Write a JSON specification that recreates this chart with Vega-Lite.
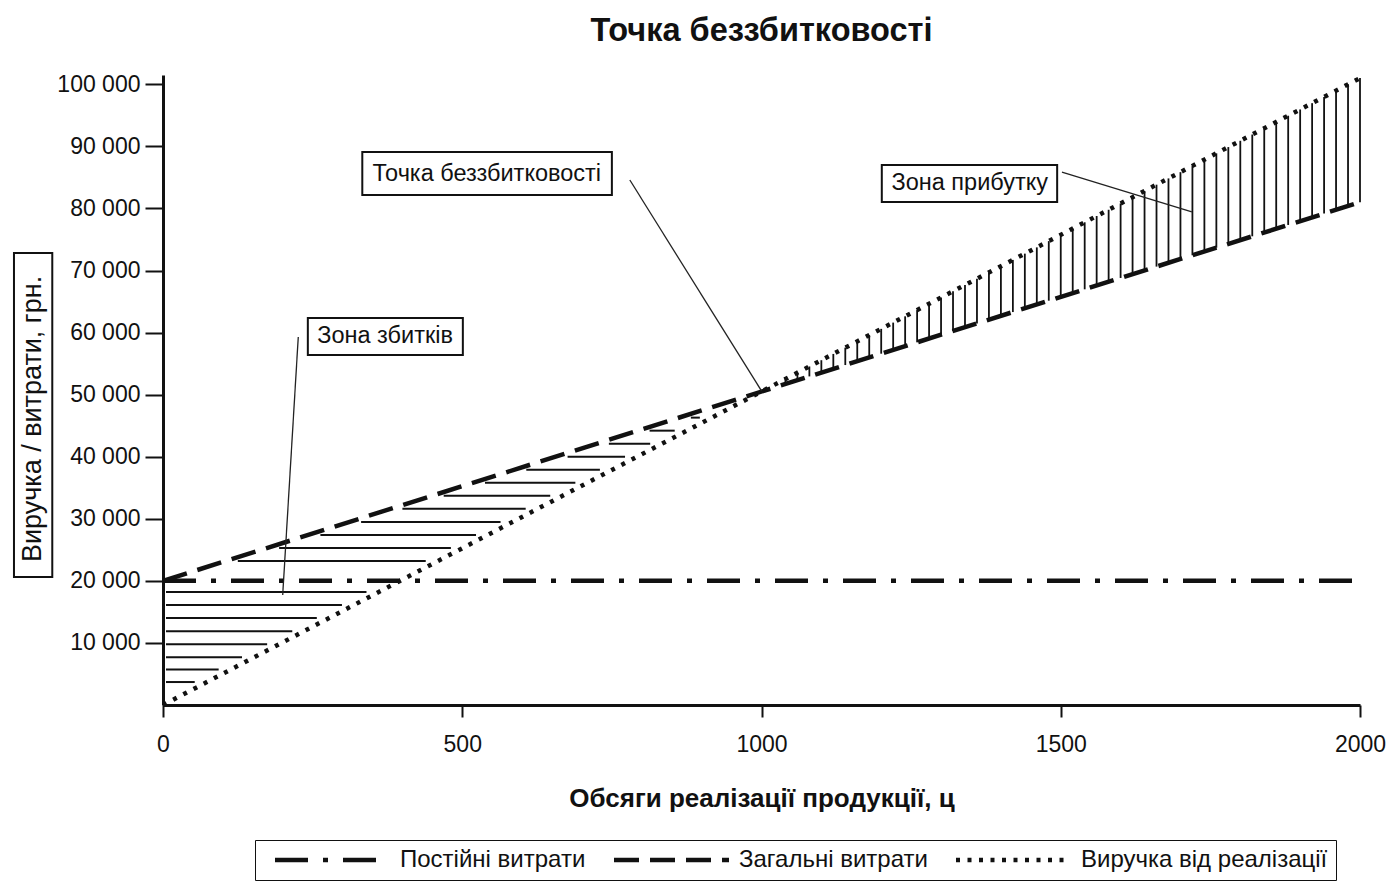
{
  "$schema": "https://vega.github.io/schema/vega-lite/v6.json",
  "width": 1197,
  "height": 630,
  "autosize": {"type": "none"},
  "padding": {"left": 163, "top": 75, "right": 29, "bottom": 178},
  "background": "white",
  "title": {"text": "Точка беззбитковості", "font": "Liberation Sans", "fontSize": 32.5, "fontWeight": "bold", "color": "#111", "offset": 22, "anchor": "middle"},
  "config": {
    "view": {"stroke": null},
    "font": "Liberation Sans"
  },
  "datasets": {
    "lines": [
      {"series": "Постійні витрати", "x": 0, "y": 20000},
      {"series": "Постійні витрати", "x": 2000, "y": 20000},
      {"series": "Загальні витрати", "x": 0, "y": 20000},
      {"series": "Загальні витрати", "x": 2000, "y": 81000},
      {"series": "Виручка від реалізації", "x": 0, "y": 0},
      {"series": "Виручка від реалізації", "x": 2000, "y": 101000}
    ],
    "hatchH": [
      {"x": 5, "x2": 53, "y": 3700}, {"x": 5, "x2": 93, "y": 5700}, {"x": 5, "x2": 132, "y": 7700},
      {"x": 5, "x2": 174, "y": 9800}, {"x": 5, "x2": 216, "y": 11900}, {"x": 5, "x2": 257, "y": 14000},
      {"x": 5, "x2": 299, "y": 16100}, {"x": 5, "x2": 340, "y": 18200},
      {"x": 125, "x2": 439, "y": 23200}, {"x": 194, "x2": 481, "y": 25300}, {"x": 263, "x2": 523, "y": 27400},
      {"x": 331, "x2": 564, "y": 29500}, {"x": 400, "x2": 606, "y": 31600}, {"x": 469, "x2": 647, "y": 33700},
      {"x": 538, "x2": 689, "y": 35800}, {"x": 607, "x2": 730, "y": 37900}, {"x": 676, "x2": 772, "y": 40000},
      {"x": 745, "x2": 814, "y": 42100}, {"x": 813, "x2": 855, "y": 44200}, {"x": 882, "x2": 897, "y": 46300}
    ],
    "hatchV": [
      {"x": 1040, "y": 51720, "y2": 52520}, {"x": 1060, "y": 52330, "y2": 53530}, {"x": 1080, "y": 52940, "y2": 54540},
      {"x": 1100, "y": 53550, "y2": 55550}, {"x": 1120, "y": 54160, "y2": 56560}, {"x": 1140, "y": 54770, "y2": 57570},
      {"x": 1160, "y": 55380, "y2": 58580}, {"x": 1180, "y": 55990, "y2": 59590}, {"x": 1200, "y": 56600, "y2": 60600},
      {"x": 1220, "y": 57210, "y2": 61610}, {"x": 1240, "y": 57820, "y2": 62620}, {"x": 1260, "y": 58430, "y2": 63630},
      {"x": 1280, "y": 59040, "y2": 64640}, {"x": 1300, "y": 59650, "y2": 65650}, {"x": 1320, "y": 60260, "y2": 66660},
      {"x": 1340, "y": 60870, "y2": 67670}, {"x": 1360, "y": 61480, "y2": 68680}, {"x": 1380, "y": 62090, "y2": 69690},
      {"x": 1400, "y": 62700, "y2": 70700}, {"x": 1420, "y": 63310, "y2": 71710}, {"x": 1440, "y": 63920, "y2": 72720},
      {"x": 1460, "y": 64530, "y2": 73730}, {"x": 1480, "y": 65140, "y2": 74740}, {"x": 1500, "y": 65750, "y2": 75750},
      {"x": 1520, "y": 66360, "y2": 76760}, {"x": 1540, "y": 66970, "y2": 77770}, {"x": 1560, "y": 67580, "y2": 78780},
      {"x": 1580, "y": 68190, "y2": 79790}, {"x": 1600, "y": 68800, "y2": 80800}, {"x": 1620, "y": 69410, "y2": 81810},
      {"x": 1640, "y": 70020, "y2": 82820}, {"x": 1660, "y": 70630, "y2": 83830}, {"x": 1680, "y": 71240, "y2": 84840},
      {"x": 1700, "y": 71850, "y2": 85850}, {"x": 1720, "y": 72460, "y2": 86860}, {"x": 1740, "y": 73070, "y2": 87870},
      {"x": 1760, "y": 73680, "y2": 88880}, {"x": 1780, "y": 74290, "y2": 89890}, {"x": 1800, "y": 74900, "y2": 90900},
      {"x": 1820, "y": 75510, "y2": 91910}, {"x": 1840, "y": 76120, "y2": 92920}, {"x": 1860, "y": 76730, "y2": 93930},
      {"x": 1880, "y": 77340, "y2": 94940}, {"x": 1900, "y": 77950, "y2": 95950}, {"x": 1920, "y": 78560, "y2": 96960},
      {"x": 1940, "y": 79170, "y2": 97970}, {"x": 1960, "y": 79780, "y2": 98980}, {"x": 1980, "y": 80390, "y2": 99990},
      {"x": 2000, "y": 81000, "y2": 101000}
    ],
    "boxes": [
      {"x": 333, "x2": 750, "y": 89100, "y2": 82160},
      {"x": 1201, "x2": 1494, "y": 87000, "y2": 81040},
      {"x": 242, "x2": 501, "y": 62350, "y2": 56390},
      {"x": -249, "x2": -185, "y": 72820, "y2": 20620}
    ],
    "leaders": [
      {"x": 780, "y": 84580, "x2": 1000, "y2": 50600},
      {"x": 1502, "y": 85870, "x2": 1719, "y2": 79430},
      {"x": 226, "y": 59290, "x2": 200, "y2": 17720}
    ],
    "labels": [
      {"x": 541, "y": 85630, "text": "Точка беззбитковості"},
      {"x": 1348, "y": 84020, "text": "Зона прибутку"},
      {"x": 371, "y": 59370, "text": "Зона збитків"}
    ],
    "ytitle": [
      {"x": -218, "y": 46080, "text": "Виручка / витрати, грн."}
    ]
  },
  "encoding": {
    "x": {
      "field": "x", "type": "quantitative",
      "scale": {"domain": [0, 2000], "nice": false, "zero": false},
      "axis": {
        "values": [0, 500, 1000, 1500, 2000],
        "format": "d",
        "title": "Обсяги реалізації продукції, ц",
        "titleFont": "Liberation Sans", "titleFontSize": 26, "titleFontWeight": "bold", "titleColor": "#111",
        "titlePadding": 29,
        "labelFont": "Liberation Sans", "labelFontSize": 23, "labelColor": "#111", "labelPadding": 16,
        "labelFlush": false,
        "domainColor": "#111", "domainWidth": 3, "tickColor": "#111", "tickWidth": 2, "tickSize": 12,
        "grid": false
      }
    },
    "y": {
      "field": "y", "type": "quantitative",
      "scale": {"domain": [0, 101500], "nice": false, "zero": false},
      "axis": {
        "values": [10000, 20000, 30000, 40000, 50000, 60000, 70000, 80000, 90000, 100000],
        "labelExpr": "replace(format(datum.value, ','), ',', ' ')",
        "title": null,
        "labelFont": "Liberation Sans", "labelFontSize": 23, "labelColor": "#111", "labelPadding": 5,
        "domainColor": "#111", "domainWidth": 3, "tickColor": "#111", "tickWidth": 2, "tickSize": 18,
        "grid": false
      }
    }
  },
  "layer": [
    {
      "data": {"name": "hatchH"},
      "mark": {"type": "rule", "color": "#111", "strokeWidth": 2},
      "encoding": {"x2": {"field": "x2"}}
    },
    {
      "data": {"name": "hatchV"},
      "mark": {"type": "rule", "color": "#111", "strokeWidth": 1.8},
      "encoding": {"y2": {"field": "y2"}}
    },
    {
      "data": {"name": "lines"},
      "mark": {"type": "line", "color": "#111", "strokeWidth": 4.5},
      "encoding": {
        "strokeDash": {
          "field": "series", "type": "nominal",
          "scale": {
            "domain": ["Постійні витрати", "Загальні витрати", "Виручка від реалізації"],
            "range": [[33, 15, 5, 15], [25, 11], [4, 7.5]]
          },
          "legend": {
            "title": null, "orient": "none", "legendX": 92, "legendY": 765,
            "direction": "horizontal", "columns": 3, "columnPadding": 16,
            "strokeColor": "#111", "padding": 8,
            "symbolType": "M-1,0H22", "symbolSize": 100, "symbolOffset": 5,
            "symbolStrokeWidth": 4.5, "symbolStrokeColor": "#111", "symbolFillColor": "transparent",
            "labelFont": "Liberation Sans", "labelFontSize": 24, "labelColor": "#111", "labelOffset": 108,
            "labelLimit": 400
          }
        }
      }
    },
    {
      "data": {"name": "leaders"},
      "mark": {"type": "rule", "color": "#222", "strokeWidth": 1.3},
      "encoding": {"x2": {"field": "x2"}, "y2": {"field": "y2"}}
    },
    {
      "data": {"name": "boxes"},
      "mark": {"type": "rect", "fill": "white", "stroke": "#111", "strokeWidth": 2},
      "encoding": {"x2": {"field": "x2"}, "y2": {"field": "y2"}}
    },
    {
      "data": {"name": "labels"},
      "mark": {"type": "text", "font": "Liberation Sans", "fontSize": 23.5, "color": "#111", "align": "center", "baseline": "middle"},
      "encoding": {"text": {"field": "text"}}
    },
    {
      "data": {"name": "ytitle"},
      "mark": {"type": "text", "font": "Liberation Sans", "fontSize": 27, "color": "#111", "align": "center", "baseline": "middle", "angle": 270},
      "encoding": {"text": {"field": "text"}}
    }
  ]
}
